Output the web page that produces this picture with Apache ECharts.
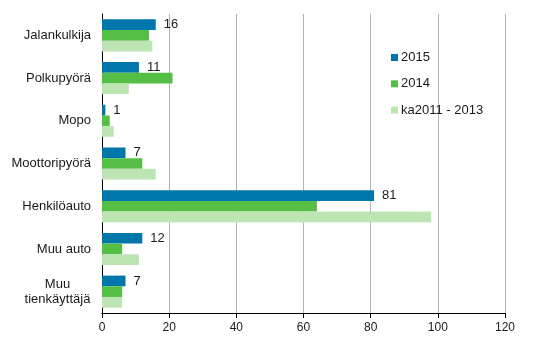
<!DOCTYPE html>
<html>
<head>
<meta charset="utf-8">
<script src="https://cdn.jsdelivr.net/npm/echarts@6/dist/echarts.min.js"></script>
<style>
html,body{margin:0;padding:0;background:#fff;}
#chart{width:546px;height:360px;}
</style>
</head>
<body>
<div id="chart"></div>
<script>
var categories = ['Jalankulkija', 'Polkupyörä', 'Mopo', 'Moottoripyörä', 'Henkilöauto', 'Muu auto', 'Muu\ntienkäyttäjä'];
var seriesNames = ['2015', '2014', 'ka2011 - 2013'];
var values2015 = [16, 11, 1, 7, 81, 12, 7];
var values2014 = [14, 21, 2.3, 12, 64, 6, 6];
var valuesAvg = [15, 8, 3.5, 16, 98, 11, 6];
var xTicks = {min: 0, max: 120, interval: 20};
var colors = ['#0077aa', '#55bf45', '#bde5b4'];

var font = 'Liberation Sans, Arial, sans-serif';
var chart = echarts.init(document.getElementById('chart'), null, {renderer: 'canvas'});
chart.setOption({
  animation: false,
  color: colors,
  textStyle: {fontFamily: font},
  grid: {left: 102, right: 41, top: 14, bottom: 47, containLabel: false},
  legend: {
    orient: 'vertical',
    left: 386,
    top: 46,
    itemWidth: 7,
    itemHeight: 7,
    itemGap: 13.3,
    icon: 'rect',
    textStyle: {fontFamily: font, fontSize: 13, color: '#1a1a1a', padding: [0, 0, 0, -2]},
    data: seriesNames
  },
  xAxis: {
    type: 'value',
    min: xTicks.min,
    max: xTicks.max,
    interval: xTicks.interval,
    axisLine: {show: true, lineStyle: {color: '#000', width: 1}},
    axisTick: {show: true, length: 5, lineStyle: {color: '#000'}},
    axisLabel: {fontFamily: font, fontSize: 12, color: '#1a1a1a', margin: 9},
    splitLine: {show: true, lineStyle: {color: '#b4b4b4', width: 1}}
  },
  yAxis: {
    type: 'category',
    inverse: true,
    data: categories,
    axisLine: {show: true, lineStyle: {color: '#000', width: 1}},
    axisTick: {show: false},
    axisLabel: {fontFamily: font, fontSize: 13, color: '#1a1a1a', margin: 11, align: 'right', lineHeight: 15,
      formatter: function (v) {
        if (v.indexOf('\n') >= 0) { return '{c|' + v.split('\n').join('}\n{c|') + '}'; }
        return v;
      },
      rich: {c: {align: 'center', width: 67, fontSize: 13, fontFamily: font, color: '#1a1a1a', lineHeight: 15}}
    }
  },
  series: [
    {name: seriesNames[0], type: 'bar', data: values2015, barGap: '0%', barCategoryGap: '25%',
      label: {show: true, position: 'right', distance: 8, fontFamily: font, fontSize: 13, color: '#1a1a1a'}},
    {name: seriesNames[1], type: 'bar', data: values2014, barGap: '0%', barCategoryGap: '25%'},
    {name: seriesNames[2], type: 'bar', data: valuesAvg, barGap: '0%', barCategoryGap: '25%'}
  ]
});
</script>
</body>
</html>
